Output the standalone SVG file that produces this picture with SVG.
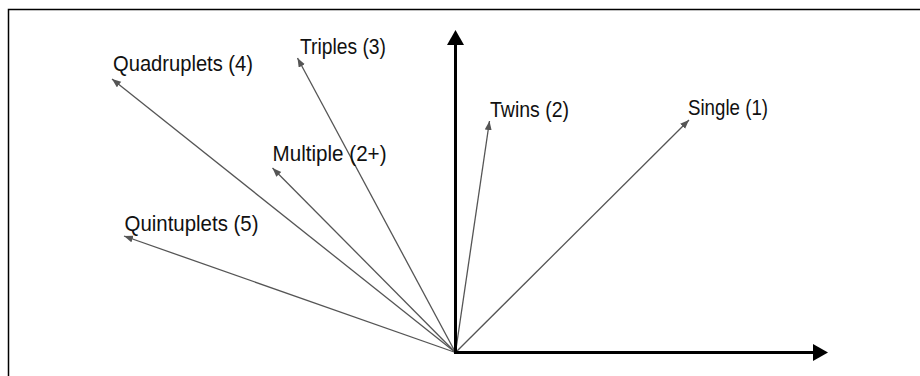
<svg xmlns="http://www.w3.org/2000/svg" width="920" height="376" viewBox="0 0 920 376">
<style>
.lbl{font-family:"Liberation Sans","DejaVu Sans",sans-serif;font-size:21.5px;fill:#111}
.vec{stroke:#555;stroke-width:1.3;fill:none;marker-end:url(#ah)}
.axis{stroke:#000;stroke-width:3;fill:none}
</style>
<defs>
<marker id="ah" markerUnits="userSpaceOnUse" markerWidth="10" markerHeight="8" refX="9" refY="3.5" orient="auto">
<path d="M0,0 L9,3.5 L0,7 z" fill="#555"/>
</marker>
</defs>
<rect x="0" y="0" width="920" height="376" fill="#fff"/>
<rect x="8.5" y="9.5" width="940" height="400" fill="none" stroke="#000" stroke-width="1.5"/>
<g id="connectors">
<line class="vec" x1="455.5" y1="352.5" x2="689" y2="120"/>
<line class="vec" x1="455.5" y1="352.5" x2="489.5" y2="121"/>
<line class="vec" x1="455.5" y1="352.5" x2="297.5" y2="58"/>
<line class="vec" x1="455.5" y1="352.5" x2="112" y2="79"/>
<line class="vec" x1="455.5" y1="352.5" x2="272.5" y2="168"/>
<line class="vec" x1="455.5" y1="352.5" x2="124" y2="236"/>
</g>
<g id="axes">
<line class="axis" x1="455.5" y1="354" x2="455.5" y2="44"/>
<polygon points="455.5,30 464,45 447,45" fill="#000"/>
<line class="axis" x1="454" y1="352.5" x2="814" y2="352.5"/>
<polygon points="828,352.5 813,344 813,361" fill="#000"/>
</g>
<g id="node-single"><text class="lbl" x="688" y="115" textLength="80" lengthAdjust="spacingAndGlyphs">Single (1)</text></g>
<g id="node-twins"><text class="lbl" x="490" y="117" textLength="79" lengthAdjust="spacingAndGlyphs">Twins (2)</text></g>
<g id="node-triples"><text class="lbl" x="300" y="54" textLength="86" lengthAdjust="spacingAndGlyphs">Triples (3)</text></g>
<g id="node-quadruplets"><text class="lbl" x="113" y="71" textLength="140" lengthAdjust="spacingAndGlyphs">Quadruplets (4)</text></g>
<g id="node-multiple"><text class="lbl" x="272.5" y="161" textLength="114" lengthAdjust="spacingAndGlyphs">Multiple (2+)</text></g>
<g id="node-quintuplets"><text class="lbl" x="124.5" y="230.5" textLength="134" lengthAdjust="spacingAndGlyphs">Quintuplets (5)</text></g>
</svg>
